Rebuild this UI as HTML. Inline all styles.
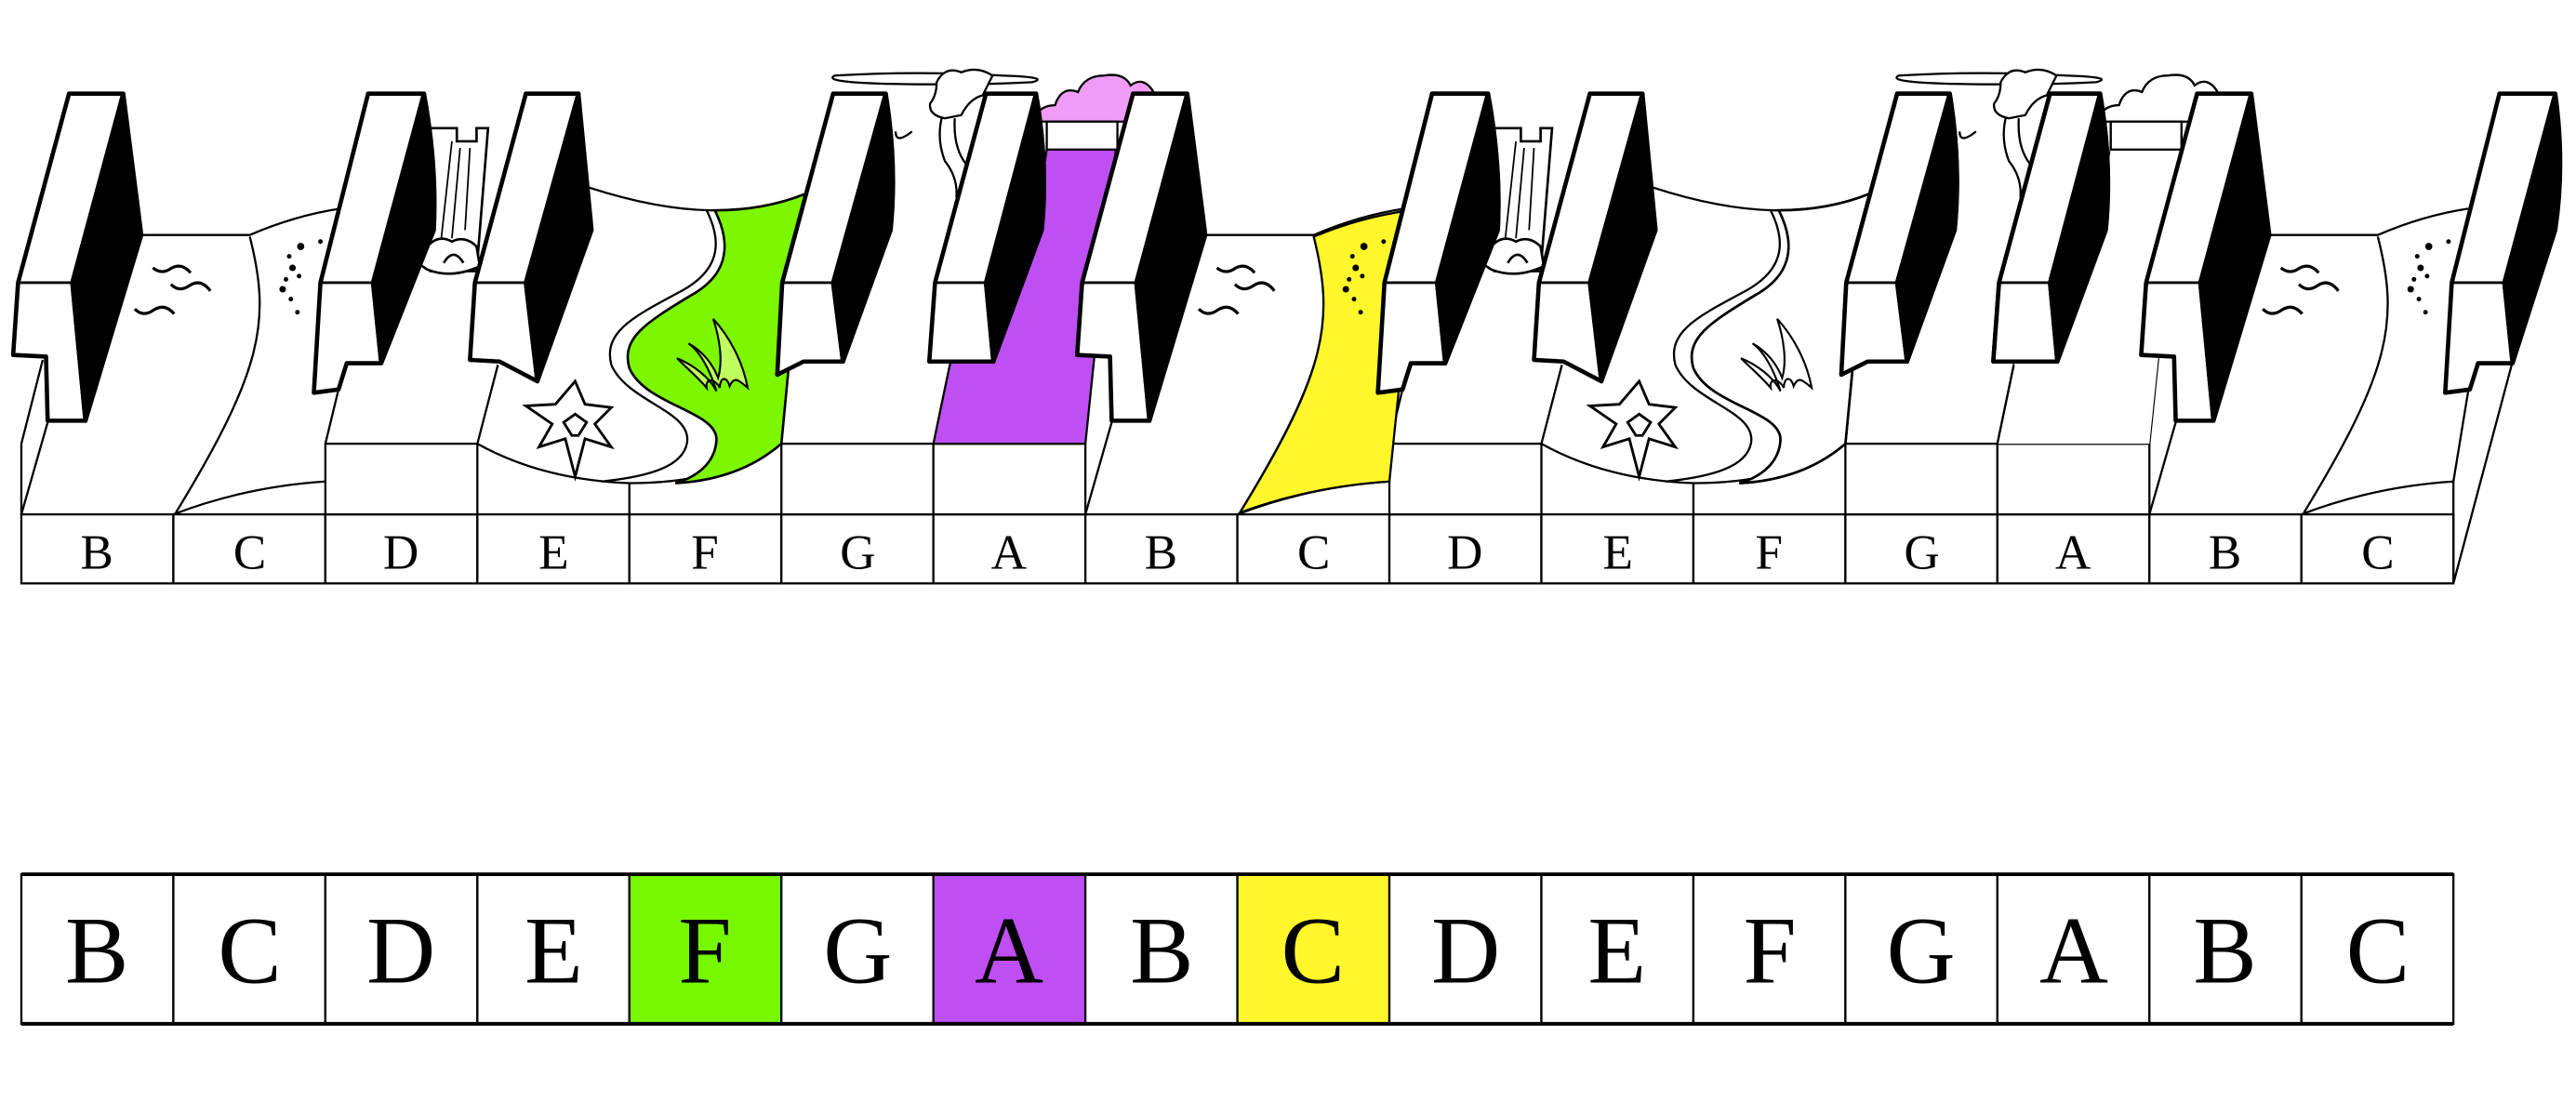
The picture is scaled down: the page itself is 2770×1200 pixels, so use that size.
<!DOCTYPE html>
<html><head><meta charset="utf-8"><style>
html,body{margin:0;padding:0;background:#fff;}
svg{display:block;}
text{font-family:"Liberation Serif",serif;}
</style></head><body>
<svg width="2770" height="1200" viewBox="0 0 1567.6 679.1" preserveAspectRatio="none" xmlns="http://www.w3.org/2000/svg">
<defs>
<g id="oct">
  <!-- label boxes -->
  <g fill="#fff" stroke="#000" stroke-width="1.3">
    <rect x="13" y="313" width="92.5" height="42"/>
    <rect x="105.5" y="313" width="92.5" height="42"/>
    <rect x="198" y="313" width="92.5" height="42"/>
    <rect x="290.5" y="313" width="92.5" height="42"/>
    <rect x="383" y="313" width="92.5" height="42"/>
    <rect x="475.5" y="313" width="92.5" height="42"/>
    <rect x="568" y="313" width="92.5" height="42"/>
  </g>
  <g font-size="30" text-anchor="middle">
    <text x="59" y="346">B</text><text x="152" y="346">C</text><text x="244" y="346">D</text>
    <text x="337" y="346">E</text><text x="429" y="346">F</text><text x="522" y="346">G</text><text x="614" y="346">A</text>
  </g>
  <!-- front faces & surfaces -->
  <g fill="none" stroke="#000" stroke-width="1.3">
    <rect x="198" y="270" width="92.5" height="43" fill="#fff"/>
    <rect x="475.5" y="270" width="92.5" height="43" fill="#fff"/>
    <rect x="568" y="270" width="92.5" height="43" fill="#fff"/>
    <path d="M290.5,270 Q330,292 383,294 Q440,294 475.5,270"/>
    <path d="M383,294 V313"/>
    <path d="M105.5,313 Q150,296 198,293"/>
    <path d="M13,313 L29,257"/>
    <path d="M198,270 L206,237"/>
    <path d="M290.5,270 L303,222"/>
    <path d="M86,143 H152 Q180,131 207,127"/>
    <path d="M152,144 C165,195 160,225 107,312"/>
    <path d="M355,113 Q400,128 435,128 Q465,128 490,118"/>
  </g>
  <!-- green region -->
  <path d="M435,128 C446,150 442,168 420,180 C392,197 378,206 383,224 C393,247 437,250 436,268 C435,283 422,291 411,294 Q450,292 475.5,270 L490,118 Q465,128 435,128 Z" fill="#7CF700" stroke="#000" stroke-width="1.5"/>
  <path d="M430,128 C441,150 436,166 413,178 C385,193 367,202 372,222 C382,245 422,250 418,270 C415,284 395,290 366,293" fill="none" stroke="#000" stroke-width="1.3"/>
  <!-- grass -->
  <path d="M412,218 C422,222 432,230 436,238 C432,225 426,214 419,209 C428,214 434,222 437,230 C440,220 438,206 434,194 C444,205 452,220 455,236 C450,232 447,228 444,235 C442,228 438,230 438,236 C435,230 429,230 430,236 C425,230 418,224 412,218 Z" fill="#C0FF60" stroke="#000" stroke-width="1.2"/>
  <!-- purple -->
  <path d="M568,270 L578,222 L598,172 Q632,130 637,91 L679,91 L660.5,270 Z" fill="#BF4FF3" stroke="#000" stroke-width="1.3"/>
  <!-- birds -->
  <g fill="none" stroke="#000" stroke-width="1.8">
    <path d="M93,163 Q98,167 103,164 Q110,159 116,166"/>
    <path d="M104,173 Q109,178 115,174 Q122,169 128,177"/>
    <path d="M82,188 Q87,193 93,189 Q100,184 106,191"/>
  </g>
  <g fill="#000">
    <circle cx="183" cy="150" r="2.2"/><circle cx="195" cy="147" r="1.4"/><circle cx="176" cy="156" r="1.4"/>
    <circle cx="178" cy="163" r="2"/><circle cx="174" cy="170" r="1.4"/><circle cx="182" cy="168" r="1.4"/>
    <circle cx="172" cy="176" r="2"/><circle cx="177" cy="182" r="1.4"/><circle cx="181" cy="190" r="1.4"/>
  </g>
  <!-- waterfall -->
  <g fill="#fff" stroke="#000" stroke-width="1.5">
    <path d="M262,78 H278 V86 H290 V78 H297 L290,165 H262 Z"/>
    <path d="M275,86 L268,150 M280,90 L275,145 M286,90 L283,140" fill="none" stroke-width="1"/>
    <path d="M251,158 Q258,152 262,148 Q268,143 275,147 Q283,143 290,150 L292,162 Q275,170 260,164 Z"/>
    <path d="M270,160 Q276,150 282,160" fill="none"/>
  </g>
  <!-- flower -->
  <g fill="#fff" stroke="#000" stroke-width="1.6">
    <path d="M350,232 L356,246 L372,248 L362,258 L372,272 L356,267 L350,290 L344,267 L328,272 L336,258 L320,247 L338,246 Z"/>
    <path d="M343,257 L350,252 L357,257 L352,265 L348,265 Z"/>
  </g>
  <!-- tree & cloud -->
  <g fill="#fff" stroke="#000" stroke-width="1.3">
    <path d="M508,46 Q560,43 610,46 Q640,47 628,50 Q590,52 540,51 Q500,50 508,46 Z"/>
    <path d="M570,50 Q575,40 585,44 Q595,40 604,46 L598,58 Q590,60 585,70 L575,72 Q565,70 566,63 Q570,58 570,50 Z"/>
    <path d="M573,72 Q570,85 575,98 Q583,108 582,120 M581,72 Q580,90 588,100" fill="none"/>
    <path d="M555,80 Q545,88 545,80" fill="none"/>
    <path d="M628,74 Q632,64 642,64 Q646,52 656,56 Q660,46 672,46 Q684,44 688,52 Q696,46 702,56 L690,74 Z" fill="#F09BF6"/>
    <rect x="637" y="74" width="43" height="17"/>
  </g>
  <!-- black keys -->
  <g stroke="#000" stroke-width="2.6" stroke-linejoin="round">
    <path d="M42,57 L75,57 L44,172 L52,256 L29,256 L28,217 L8,216 L11,172 Z" fill="#fff"/>
    <path d="M75,57 L86,143 L52,256 L44,172 Z" fill="#000"/>
    <path d="M11,172 H44" fill="none" stroke-width="1.6"/>
    <path d="M224,57 L258,57 L227,172 L232,221 L211,221 L206,237 L191,239 L195,172 Z" fill="#fff"/>
    <path d="M258,57 Q266,100 264,140 L232,221 L227,172 Z" fill="#000"/>
    <path d="M195,172 H227" fill="none" stroke-width="1.6"/>
    <path d="M320,57 L352,57 L320,172 L327,232 L304,220 L286,219 L289,172 Z" fill="#fff"/>
    <path d="M352,57 L360,140 L327,232 L320,172 Z" fill="#000"/>
    <path d="M289,172 H320" fill="none" stroke-width="1.6"/>
    <path d="M507,57 L539,57 L507,172 L513,220 L489,220 L473,228 L476,172 Z" fill="#fff"/>
    <path d="M539,57 Q546,100 542,140 L513,220 L507,172 Z" fill="#000"/>
    <path d="M476,172 H507" fill="none" stroke-width="1.6"/>
    <path d="M600,57 L630.5,57 L600,172 L604.5,220 L565.5,220 L569,172 Z" fill="#fff"/>
    <path d="M630.5,57 Q638,100 634,140 L604.5,220 L600,172 Z" fill="#000"/>
    <path d="M569,172 H600" fill="none" stroke-width="1.6"/>
  </g>
</g>
</defs>

<!-- yellow C for octave 2 (under) -->
<use href="#oct"/>
<use href="#oct" transform="translate(647.5,0)"/>
<path d="M799.5,144 C812,195 808,225 754.5,312 Q798,296 845.5,293 L853,220 L858,128 Q828,132 799.5,144 Z" fill="#FFF72B" stroke="#000" stroke-width="1.3"/>
<g fill="#000">
  <circle cx="830" cy="150" r="2.2"/><circle cx="842" cy="147" r="1.4"/><circle cx="823" cy="156" r="1.4"/>
  <circle cx="825" cy="163" r="2"/><circle cx="821" cy="170" r="1.4"/><circle cx="829" cy="168" r="1.4"/>
  <circle cx="819" cy="176" r="2"/><circle cx="824" cy="182" r="1.4"/><circle cx="828" cy="190" r="1.4"/>
</g>
<!-- redraw key at 873 over yellow -->
<g stroke="#000" stroke-width="2.6" stroke-linejoin="round">
  <path d="M871.5,57 L905.5,57 L874.5,172 L879.5,221 L858.5,221 L853.5,237 L838.5,239 L842.5,172 Z" fill="#fff"/>
  <path d="M905.5,57 Q913.5,100 911.5,140 L879.5,221 L874.5,172 Z" fill="#000"/>
  <path d="M842.5,172 H874.5" fill="none" stroke-width="1.6"/>
</g>
<!-- octave 2: remove green & purple fills -> overlay white versions -->
<g transform="translate(647.5,0)">
  <path d="M435,128 C446,150 442,168 420,180 C392,197 378,206 383,224 C393,247 437,250 436,268 C435,283 422,291 411,294 Q450,292 475.5,270 L490,118 Q465,128 435,128 Z" fill="#fff" stroke="#000" stroke-width="1.5"/>
  <path d="M412,218 C422,222 432,230 436,238 C432,225 426,214 419,209 C428,214 434,222 437,230 C440,220 438,206 434,194 C444,205 452,220 455,236 C450,232 447,228 444,235 C442,228 438,230 438,236 C435,230 429,230 430,236 C425,230 418,224 412,218 Z" fill="#fff" stroke="#000" stroke-width="1.2"/>
  <path d="M568,270 L578,222 L598,172 Q632,130 637,91 L679,91 L660.5,270 Z" fill="#fff" stroke="none"/>
  <path d="M568,270 L578,222" stroke="#000" stroke-width="1.3"/>
  <path d="M628,74 Q632,64 642,64 Q646,52 656,56 Q660,46 672,46 Q684,44 688,52 Q696,46 702,56 L690,74 Z" fill="#fff" stroke="#000" stroke-width="1.3"/>
  <rect x="637" y="74" width="43" height="17" fill="#fff" stroke="#000" stroke-width="1.3"/>
  <g stroke="#000" stroke-width="2.6" stroke-linejoin="round">
    <path d="M507,57 L539,57 L507,172 L513,220 L489,220 L473,228 L476,172 Z" fill="#fff"/>
    <path d="M539,57 Q546,100 542,140 L513,220 L507,172 Z" fill="#000"/>
    <path d="M476,172 H507" fill="none" stroke-width="1.6"/>
    <path d="M600,57 L630.5,57 L600,172 L604.5,220 L565.5,220 L569,172 Z" fill="#fff"/>
    <path d="M630.5,57 Q638,100 634,140 L604.5,220 L600,172 Z" fill="#000"/>
    <path d="M569,172 H600" fill="none" stroke-width="1.6"/>
  </g>
</g>
<!-- octave 3: B, C -->
<g transform="translate(1295,0)">
  <g fill="#fff" stroke="#000" stroke-width="1.3">
    <rect x="13" y="313" width="92.5" height="42"/>
    <rect x="105.5" y="313" width="92.5" height="42"/>
  </g>
  <g font-size="30" text-anchor="middle"><text x="59" y="346">B</text><text x="152" y="346">C</text></g>
  <g fill="none" stroke="#000" stroke-width="1.3">
    <path d="M105.5,313 Q150,296 198,293 V355"/>
    <path d="M13,313 L29,257"/>
    <path d="M86,143 H152 Q180,131 207,127"/>
    <path d="M152,144 C165,195 160,225 107,312"/>
    <path d="M198,355 L234,220"/>
    <path d="M198,293 L207,238"/>
  </g>
  <g fill="none" stroke="#000" stroke-width="1.8">
    <path d="M93,163 Q98,167 103,164 Q110,159 116,166"/>
    <path d="M104,173 Q109,178 115,174 Q122,169 128,177"/>
    <path d="M82,188 Q87,193 93,189 Q100,184 106,191"/>
  </g>
  <g fill="#000">
    <circle cx="183" cy="150" r="2.2"/><circle cx="195" cy="147" r="1.4"/><circle cx="176" cy="156" r="1.4"/>
    <circle cx="178" cy="163" r="2"/><circle cx="174" cy="170" r="1.4"/><circle cx="182" cy="168" r="1.4"/>
    <circle cx="172" cy="176" r="2"/><circle cx="177" cy="182" r="1.4"/><circle cx="181" cy="190" r="1.4"/>
  </g>
  <g stroke="#000" stroke-width="2.6" stroke-linejoin="round">
    <path d="M42,57 L75,57 L44,172 L52,256 L29,256 L28,217 L8,216 L11,172 Z" fill="#fff"/>
    <path d="M75,57 L86,143 L52,256 L44,172 Z" fill="#000"/>
    <path d="M11,172 H44" fill="none" stroke-width="1.6"/>
    <path d="M226,57 L260,57 L229,172 L234,221 L213,221 L208,237 L193,239 L197,172 Z" fill="#fff"/>
    <path d="M260,57 Q266,100 260,140 L234,221 L229,172 Z" fill="#000"/>
    <path d="M197,172 H229" fill="none" stroke-width="1.6"/>
  </g>
</g>
<!-- left side of octave 1 -->
<path d="M13,313 L13,270 L26,219" fill="none" stroke="#000" stroke-width="1.3"/>

<!-- bottom row -->
<g stroke="#000" stroke-width="1.3">
  <rect x="13" y="532" width="92.5" height="91" fill="#fff"/>
  <rect x="105.5" y="532" width="92.5" height="91" fill="#fff"/>
  <rect x="198" y="532" width="92.5" height="91" fill="#fff"/>
  <rect x="290.5" y="532" width="92.5" height="91" fill="#fff"/>
  <rect x="383" y="532" width="92.5" height="91" fill="#77F700"/>
  <rect x="475.5" y="532" width="92.5" height="91" fill="#fff"/>
  <rect x="568" y="532" width="92.5" height="91" fill="#BF4FF3"/>
  <rect x="660.5" y="532" width="92.5" height="91" fill="#fff"/>
  <rect x="753" y="532" width="92.5" height="91" fill="#FFF72B"/>
  <rect x="845.5" y="532" width="92.5" height="91" fill="#fff"/>
  <rect x="938" y="532" width="92.5" height="91" fill="#fff"/>
  <rect x="1030.5" y="532" width="92.5" height="91" fill="#fff"/>
  <rect x="1123" y="532" width="92.5" height="91" fill="#fff"/>
  <rect x="1215.5" y="532" width="92.5" height="91" fill="#fff"/>
  <rect x="1308" y="532" width="92.5" height="91" fill="#fff"/>
  <rect x="1400.5" y="532" width="92.5" height="91" fill="#fff"/>
</g>
<path d="M13,532 H1493 M13,623 H1493" stroke="#000" stroke-width="2.2"/>
<g font-size="58" text-anchor="middle">
  <text x="59" y="598">B</text><text x="152" y="598">C</text><text x="244" y="598">D</text><text x="337" y="598">E</text>
  <text x="429" y="598">F</text><text x="522" y="598">G</text><text x="614" y="598">A</text><text x="707" y="598">B</text>
  <text x="799" y="598">C</text><text x="892" y="598">D</text><text x="984" y="598">E</text><text x="1077" y="598">F</text>
  <text x="1169" y="598">G</text><text x="1262" y="598">A</text><text x="1354" y="598">B</text><text x="1447" y="598">C</text>
</g>
</svg>
</body></html>
